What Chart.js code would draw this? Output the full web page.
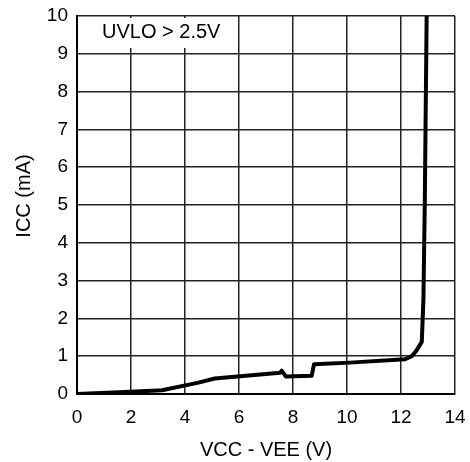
<!DOCTYPE html>
<html>
<head>
<meta charset="utf-8">
<script src="https://cdn.jsdelivr.net/npm/chart.js@4"></script>
<style>
  html, body { margin: 0; padding: 0; background: #fff; }
  #wrap { width: 470px; height: 462px; }
</style>
</head>
<body>
<div id="wrap"><canvas id="c" width="470" height="462"></canvas></div>
<script>
// Supply current vs. supply voltage
const vcc = [0, 2, 3.15, 4.5, 5.1, 7.52, 7.58, 7.74, 8.69, 8.78, 10.1, 12.15, 12.4, 12.58, 12.77, 12.83, 12.88, 12.95];
const icc = [0, 0.06, 0.1, 0.3, 0.41, 0.56, 0.62, 0.46, 0.48, 0.79, 0.83, 0.92, 1.0, 1.16, 1.38, 2.5, 5, 10];
const xTicks = [0, 2, 4, 6, 8, 10, 12, 14];
const yTicks = [0, 1, 2, 3, 4, 5, 6, 7, 8, 9, 10];
const noteText = 'UVLO > 2.5V';
const yTitle = 'ICC (mA)';

const FONT = "'Liberation Sans', Arial, sans-serif";

// Boxed note in the upper-left corner of the plot, plus the rotated y title
const textPlugin = {
  id: 'texts',
  afterDatasetsDraw(chart) {
    const { ctx, chartArea } = chart;
    ctx.save();
    ctx.font = `20px ${FONT}`;
    const w = ctx.measureText(noteText).width;
    const x = chartArea.left + 25;
    const y = chartArea.top + 16;
    ctx.fillStyle = '#fff';
    ctx.fillRect(x - 7, chartArea.top + 2, w + 14, 30);
    ctx.fillStyle = '#000';
    ctx.textBaseline = 'middle';
    ctx.fillText(noteText, x, y);

    ctx.translate(24, 196);
    ctx.rotate(-Math.PI / 2);
    ctx.textAlign = 'center';
    ctx.fillText(yTitle, 0, 0);
    ctx.restore();
  }
};

new Chart(document.getElementById('c'), {
  type: 'scatter',
  data: {
    datasets: [{
      data: vcc.map((v, i) => ({ x: v, y: icc[i] })),
      showLine: true,
      borderColor: '#000',
      borderWidth: 4,
      pointRadius: 0,
      tension: 0,
      borderJoinStyle: 'round',
      borderCapStyle: 'round'
    }]
  },
  options: {
    responsive: false,
    animation: false,
    layout: { padding: { top: 16, right: 15, left: 0, bottom: 0 } },
    plugins: { legend: { display: false }, tooltip: { enabled: false } },
    scales: {
      x: {
        type: 'linear', min: 0, max: 14,
        afterBuildTicks(s) { s.ticks = xTicks.map(v => ({ value: v })); },
        afterFit(s) { s.height = 68; s.paddingLeft = 0; s.paddingRight = 0; },
        grid: { color: '#222', lineWidth: 1.5, drawTicks: false },
        border: { color: '#000', width: 2 },
        ticks: { color: '#000', font: { family: FONT, size: 19 }, padding: 12, maxRotation: 0 },
        title: { display: true, text: 'VCC - VEE (V)', color: '#000', font: { family: FONT, size: 20 }, padding: { top: 8, bottom: 0 } }
      },
      y: {
        type: 'linear', min: 0, max: 10,
        afterBuildTicks(s) { s.ticks = yTicks.map(v => ({ value: v })); },
        afterFit(s) { s.width = 77; s.paddingTop = 0; s.paddingBottom = 0; },
        grid: { color: '#222', lineWidth: 1.5, drawTicks: false },
        border: { color: '#000', width: 2 },
        ticks: { color: '#000', font: { family: FONT, size: 19 }, padding: 9 },
        title: { display: false }
      }
    }
  },
  plugins: [textPlugin]
});
</script>
</body>
</html>
